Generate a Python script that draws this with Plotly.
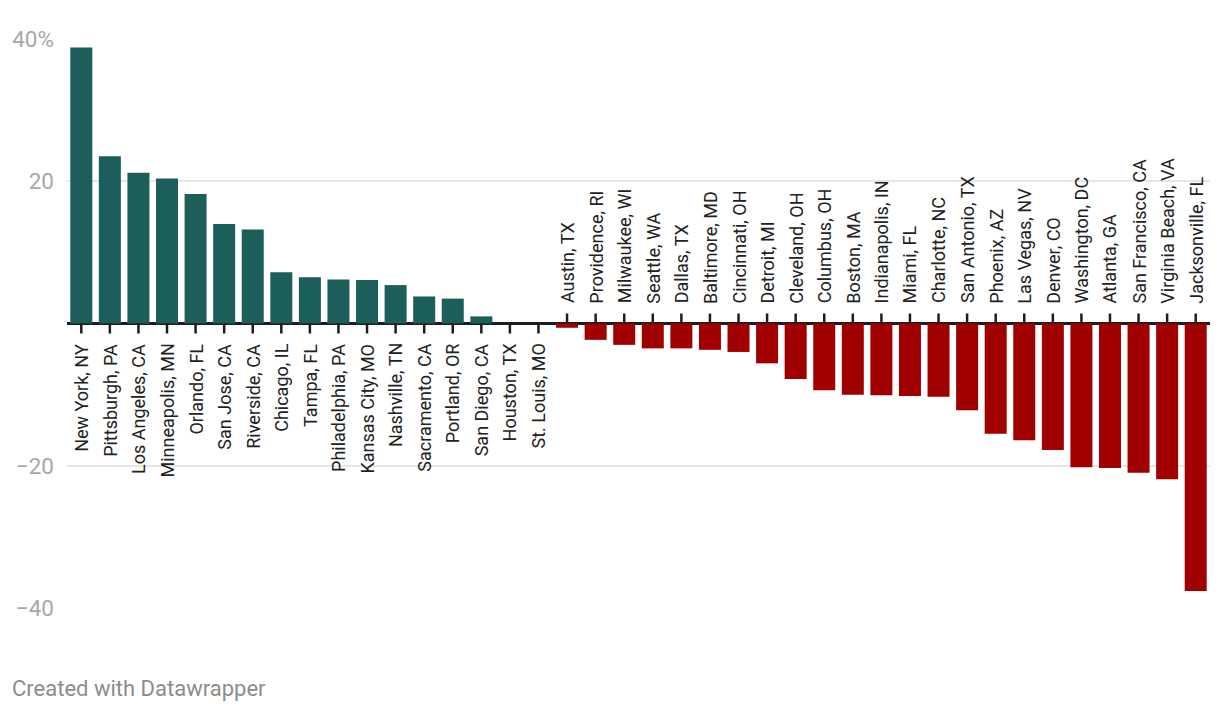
import plotly.graph_objects as go

cities = [
    "New York, NY", "Pittsburgh, PA", "Los Angeles, CA", "Minneapolis, MN", "Orlando, FL",
    "San Jose, CA", "Riverside, CA", "Chicago, IL", "Tampa, FL", "Philadelphia, PA",
    "Kansas City, MO", "Nashville, TN", "Sacramento, CA", "Portland, OR", "San Diego, CA",
    "Houston, TX", "St. Louis, MO", "Austin, TX", "Providence, RI", "Milwaukee, WI",
    "Seattle, WA", "Dallas, TX", "Baltimore, MD", "Cincinnati, OH", "Detroit, MI",
    "Cleveland, OH", "Columbus, OH", "Boston, MA", "Indianapolis, IN", "Miami, FL",
    "Charlotte, NC", "San Antonio, TX", "Phoenix, AZ", "Las Vegas, NV", "Denver, CO",
    "Washington, DC", "Atlanta, GA", "San Francisco, CA", "Virginia Beach, VA", "Jacksonville, FL",
]
values = [
    38.8, 23.5, 21.2, 20.4, 18.2,
    14.0, 13.2, 7.2, 6.5, 6.2,
    6.1, 5.4, 3.8, 3.5, 1.0,
    0.0, 0.0, -0.6, -2.3, -3.0,
    -3.5, -3.5, -3.7, -4.0, -5.6,
    -7.8, -9.4, -10.0, -10.1, -10.2,
    -10.3, -12.2, -15.5, -16.4, -17.8,
    -20.2, -20.3, -21.0, -21.9, -37.6,
]
y_tickvals = [-40, -20, 20, 40]
y_ticktext = ["\u221240", "\u221220", "20", "40%"]

POS = "#1b5e5a"
NEG = "#a00000"
FONT = "Roboto"

colors = [POS if v >= 0 else NEG for v in values]

fig = go.Figure(go.Bar(
    x=cities, y=values, marker=dict(color=colors, line=dict(width=0)),
    hoverinfo="x+y",
))

annotations = []
shapes = []
for i, (c, v) in enumerate(zip(cities, values)):
    neg = v < 0
    annotations.append(dict(
        x=c, y=0, xref="x", yref="y", text=c, showarrow=False, textangle=-90,
        yanchor="bottom" if neg else "top", xanchor="center",
        yshift=18 if neg else -18,
        font=dict(family=FONT, size=18, color="#222222"),
    ))
    shapes.append(dict(
        type="line", xref="x", yref="y", x0=i, x1=i,
        ysizemode="pixel", yanchor=0, y0=0, y1=10 if neg else -10,
        line=dict(color="#1d1d1d", width=2.5),
    ))

annotations.append(dict(
    xref="paper", yref="paper", x=-0.0499, y=-0.142, xanchor="left", yanchor="middle",
    text="Created with Datawrapper", showarrow=False,
    font=dict(family=FONT, size=22, color="#8c8c8c"),
))

fig.update_layout(
    width=1212, height=706, autosize=False,
    margin=dict(l=59, r=10, t=31, b=106),
    paper_bgcolor="white", plot_bgcolor="white",
    bargap=0.23, showlegend=False,
    font=dict(family=FONT),
    annotations=annotations, shapes=shapes,
    xaxis=dict(type="category", range=[-0.5, len(cities) - 0.5], showticklabels=False,
               showgrid=False, zeroline=False, showline=False, ticks="", automargin=False),
    yaxis=dict(range=[-40, 40], tickvals=y_tickvals, ticktext=y_ticktext,
               showgrid=True, gridcolor="#e6e6e6", gridwidth=1.5,
               zeroline=True, zerolinecolor="#1d1d1d", zerolinewidth=2.5,
               showline=False, ticks="", ticklabelstandoff=12, automargin=False,
               tickfont=dict(family=FONT, size=22.5, color="#a8a8a8")),
)

fig.write_html("out.html")
